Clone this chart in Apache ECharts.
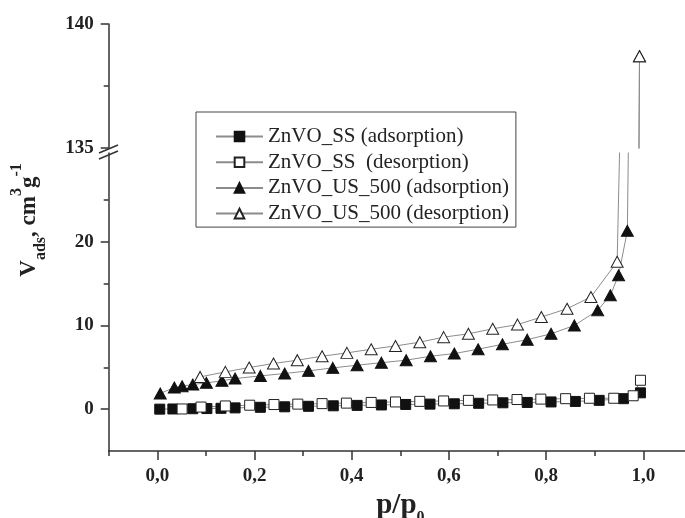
<!DOCTYPE html>
<html>
<head>
<meta charset="utf-8">
<script src="https://cdn.jsdelivr.net/npm/echarts@6/dist/echarts.min.js"></script>
<style>
  html, body { margin: 0; padding: 0; background: #fff; }
  #chart { width: 685px; height: 518px; }
</style>
</head>
<body>
<div id="chart"></div>
<script>
// values (p/p0 and Vads)
const ssAdsP = [0.005, 0.032, 0.073, 0.102, 0.131, 0.16, 0.212, 0.262, 0.311, 0.362, 0.411, 0.461, 0.511, 0.561, 0.611, 0.661, 0.711, 0.761, 0.81, 0.86, 0.909, 0.959, 0.994];
const ssAdsV = [0.0, 0.02, 0.05, 0.07, 0.1, 0.15, 0.22, 0.28, 0.34, 0.4, 0.45, 0.5, 0.56, 0.6, 0.64, 0.7, 0.76, 0.8, 0.86, 0.92, 1.05, 1.25, 1.95];
const ssDesP = [0.051, 0.09, 0.14, 0.19, 0.24, 0.289, 0.339, 0.389, 0.44, 0.49, 0.54, 0.589, 0.64, 0.69, 0.74, 0.789, 0.84, 0.889, 0.939, 0.979, 0.994];
const ssDesV = [0.02, 0.25, 0.38, 0.47, 0.55, 0.6, 0.66, 0.72, 0.8, 0.86, 0.93, 0.98, 1.05, 1.1, 1.15, 1.2, 1.25, 1.3, 1.3, 1.6, 3.45];
const usAdsP = [0.006, 0.035, 0.051, 0.073, 0.101, 0.133, 0.16, 0.212, 0.262, 0.311, 0.361, 0.411, 0.461, 0.512, 0.562, 0.611, 0.66, 0.71, 0.761, 0.81, 0.858, 0.906, 0.932, 0.949, 0.967, 0.992];
const usAdsV = [1.87, 2.59, 2.74, 2.95, 3.14, 3.38, 3.66, 3.97, 4.26, 4.57, 4.93, 5.25, 5.55, 5.85, 6.32, 6.64, 7.16, 7.75, 8.3, 9.0, 10.0, 11.8, 13.6, 16.0, 21.3, 138.7];
const usDesP = [0.088, 0.14, 0.189, 0.239, 0.288, 0.339, 0.39, 0.44, 0.49, 0.54, 0.589, 0.64, 0.69, 0.741, 0.79, 0.843, 0.892, 0.946, 0.992];
const usDesV = [3.85, 4.45, 4.97, 5.45, 5.85, 6.32, 6.72, 7.16, 7.55, 8.0, 8.6, 9.0, 9.6, 10.1, 11.0, 12.0, 13.4, 17.6, 138.7];

const names = ['ZnVO_SS (adsorption)', 'ZnVO_SS  (desorption)', 'ZnVO_US_500 (adsorption)', 'ZnVO_US_500 (desorption)'];

// ticks / labels
const xMajor = [0, 0.2, 0.4, 0.6, 0.8, 1.0];
const xMinor = [-0.1, 0.1, 0.3, 0.5, 0.7, 0.9, 1.1];
const yLowMajor = [0, 10, 20];
const yLowMinor = [5, 15, 25];
const yHighMajor = [135, 140];
const yHighMinor = [137.5];

const serif = '"Liberation Serif", "Times New Roman", serif';
const ink = '#222';
const axisLine = { show: true, onZero: false, lineStyle: { color: '#333', width: 1.5 } };
const labelStyle = { fontFamily: serif, fontWeight: 'bold', fontSize: 19, color: ink };

function pairs(xs, ys) {
  return xs.map((x, i) => [x, ys[i]]);
}

const filled = { color: '#111', borderColor: '#111', borderWidth: 1 };
const open = { color: '#fff', borderColor: '#222', borderWidth: 1 };

function mkSeries(name, data, symbol, size, style, xi, yi) {
  return {
    name: name,
    type: 'line',
    xAxisIndex: xi,
    yAxisIndex: yi,
    data: data,
    symbol: symbol,
    symbolSize: size,
    showAllSymbol: true,
    clip: true,
    itemStyle: style,
    lineStyle: { color: '#8c8c8c', width: 1 },
    emphasis: { disabled: true },
    animation: false
  };
}

const chart = echarts.init(document.getElementById('chart'));

chart.setOption({
  backgroundColor: '#fff',
  animation: false,
  grid: [
    { left: 108.7, top: 153, width: 583.3, height: 298, outerBoundsMode: 'none', containLabel: false },
    { left: 108.7, top: 24, width: 583.3, height: 124, outerBoundsMode: 'none', containLabel: false }
  ],
  xAxis: [
    {
      type: 'value', gridIndex: 0, min: -0.1, max: 1.1, position: 'bottom',
      axisLine: axisLine,
      axisTick: { customValues: xMajor, length: 9, lineStyle: { color: '#333', width: 1.5 } },
      axisLabel: Object.assign({ customValues: xMajor, margin: 16,
        formatter: v => v.toFixed(1).replace('.', ',') }, labelStyle),
      splitLine: { show: false },
      name: '{a|p/p}{b|0}',
      nameLocation: 'middle',
      nameGap: 29,
      nameTextStyle: {
        rich: {
          a: { fontFamily: serif, fontWeight: 'bold', fontSize: 29, color: ink, lineHeight: 40 },
          b: { fontFamily: serif, fontWeight: 'bold', fontSize: 16, color: ink, lineHeight: 14, verticalAlign: 'bottom' }
        }
      }
    },
    {
      type: 'value', gridIndex: 0, min: -0.1, max: 1.1, position: 'bottom',
      axisLine: { show: false, onZero: false },
      axisTick: { customValues: xMinor, length: 5, lineStyle: { color: '#333', width: 1.5 } },
      axisLabel: { show: false },
      splitLine: { show: false }
    },
    {
      type: 'value', gridIndex: 1, min: -0.1, max: 1.1, show: false,
      axisLine: { onZero: false }, splitLine: { show: false }
    }
  ],
  yAxis: [
    {
      type: 'value', gridIndex: 0, min: -5, max: 30.6, position: 'left',
      axisLine: axisLine,
      axisTick: { customValues: yLowMajor, length: 8, lineStyle: { color: '#333', width: 1.5 } },
      axisLabel: Object.assign({ customValues: yLowMajor, margin: 15 }, labelStyle),
      splitLine: { show: false }
    },
    {
      type: 'value', gridIndex: 0, min: -5, max: 30.6, position: 'left',
      axisLine: { show: false, onZero: false },
      axisTick: { customValues: yLowMinor, length: 5, lineStyle: { color: '#333', width: 1.5 } },
      axisLabel: { show: false },
      splitLine: { show: false }
    },
    {
      type: 'value', gridIndex: 1, min: 135, max: 140, position: 'left',
      axisLine: axisLine,
      axisTick: { customValues: yHighMajor, length: 8, lineStyle: { color: '#333', width: 1.5 } },
      axisLabel: Object.assign({ customValues: yHighMajor, margin: 15 }, labelStyle),
      splitLine: { show: false }
    },
    {
      type: 'value', gridIndex: 1, min: 135, max: 140, position: 'left',
      axisLine: { show: false, onZero: false },
      axisTick: { customValues: yHighMinor, length: 5, lineStyle: { color: '#333', width: 1.5 } },
      axisLabel: { show: false },
      splitLine: { show: false }
    }
  ],
  legend: {
    orient: 'vertical',
    left: 196,
    top: 112,
    padding: [14, 7, 3, 19],
    itemWidth: 47,
    itemHeight: 12,
    itemGap: 4.7,
    borderColor: '#444',
    borderWidth: 1,
    backgroundColor: '#fff',
    selectedMode: false,
    textStyle: { fontFamily: serif, fontSize: 21, color: ink, lineHeight: 21 },
    data: names
  },
  graphic: [
    {
      type: 'text',
      x: 29,
      y: 220,
      rotation: Math.PI / 2,
      style: {
        text: '{m|V}{s|ads}{m|, cm}{p|3}{m|g}{p|-1}',
        align: 'center',
        verticalAlign: 'middle',
        rich: {
          m: { fontFamily: serif, fontWeight: 'bold', fontSize: 23, fill: ink, lineHeight: 40 },
          s: { fontFamily: serif, fontWeight: 'bold', fontSize: 16, fill: ink, lineHeight: 14, verticalAlign: 'bottom' },
          p: { fontFamily: serif, fontWeight: 'bold', fontSize: 16, fill: ink, lineHeight: 14, verticalAlign: 'top' }
        }
      }
    },
    // axis break marks
    { type: 'line', shape: { x1: 99, y1: 153, x2: 118, y2: 145 }, style: { stroke: '#333', lineWidth: 1.5 } },
    { type: 'line', shape: { x1: 99, y1: 159, x2: 118, y2: 151 }, style: { stroke: '#333', lineWidth: 1.5 } }
  ],
  series: [
    mkSeries(names[0], pairs(ssAdsP, ssAdsV), 'rect', 10, filled, 0, 0),
    mkSeries(names[1], pairs(ssDesP, ssDesV), 'rect', 10, open, 0, 0),
    mkSeries(names[2], pairs(usAdsP, usAdsV), 'triangle', [12, 11], filled, 0, 0),
    mkSeries(names[3], pairs(usDesP, usDesV), 'triangle', [12, 11], open, 0, 0),
    // upper part of the broken axis
    mkSeries(names[2], pairs(usAdsP, usAdsV), 'triangle', [12, 11], filled, 2, 2),
    mkSeries(names[3], pairs(usDesP, usDesV), 'triangle', [12, 11], open, 2, 2)
  ]
});
</script>
</body>
</html>
